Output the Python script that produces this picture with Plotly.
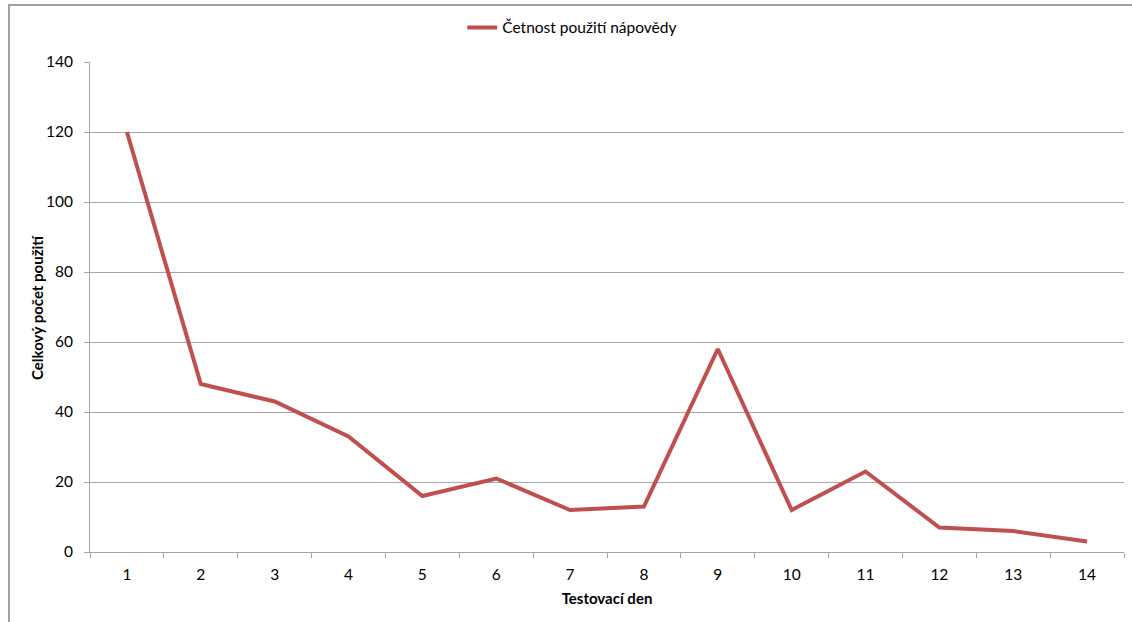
import plotly.graph_objects as go

# Daily help usage counts over the 14 test days
days = [str(d) for d in range(1, 15)]
usage = [120, 48, 43, 33, 16, 21, 12, 13, 58, 12, 23, 7, 6, 3]
series_name = "Četnost použití nápovědy"
y_ticks = [0, 20, 40, 60, 80, 100, 120, 140]
x_title = "Testovací den"
y_title = "Celkový počet použití"

FONT = "Lato, 'Open Sans', sans-serif"
GRID = "#a6a6a6"

fig = go.Figure()
fig.add_trace(go.Scatter(
    x=days, y=usage, mode="lines", name=series_name,
    line=dict(color="#C0504D", width=4),
))

fig.update_layout(
    width=1132, height=622,
    margin=dict(l=90, r=8, t=62, b=70),
    paper_bgcolor="white", plot_bgcolor="white",
    font=dict(family=FONT, size=15.5, color="#000000"),
    showlegend=True,
    legend=dict(
        orientation="h", x=0.36, y=1.035, xanchor="left", yanchor="bottom",
        font=dict(size=15.5), itemwidth=30, bgcolor="rgba(0,0,0,0)",
    ),
    xaxis=dict(
        type="category", tickson="boundaries", range=[-0.5, 13.5],
        showgrid=False, showline=True, linecolor=GRID, linewidth=1,
        ticks="outside", ticklen=5, tickcolor=GRID, ticklabelstandoff=8,
        title=dict(text="<b>" + x_title + "</b>", font=dict(size=15), standoff=11),
    ),
    yaxis=dict(
        range=[0, 140], tickvals=y_ticks,
        showgrid=True, gridcolor=GRID, gridwidth=1,
        showline=True, linecolor=GRID, linewidth=1,
        ticks="outside", ticklen=5, tickcolor=GRID, ticklabelstandoff=8,
        zeroline=False,
    ),
    annotations=[dict(
        text="<b>" + y_title + "</b>", textangle=-90,
        xref="paper", yref="paper", x=-0.0513, y=0.5,
        xanchor="center", yanchor="middle", showarrow=False,
        font=dict(size=15),
    )],
    shapes=[dict(
        type="rect", xref="paper", yref="paper",
        x0=-0.0783, x1=1.2, y0=-0.3, y1=1.1161,
        line=dict(color="#a0a0a0", width=2), fillcolor="rgba(0,0,0,0)",
        layer="below",
    )],
)

fig.write_html("out.html")
